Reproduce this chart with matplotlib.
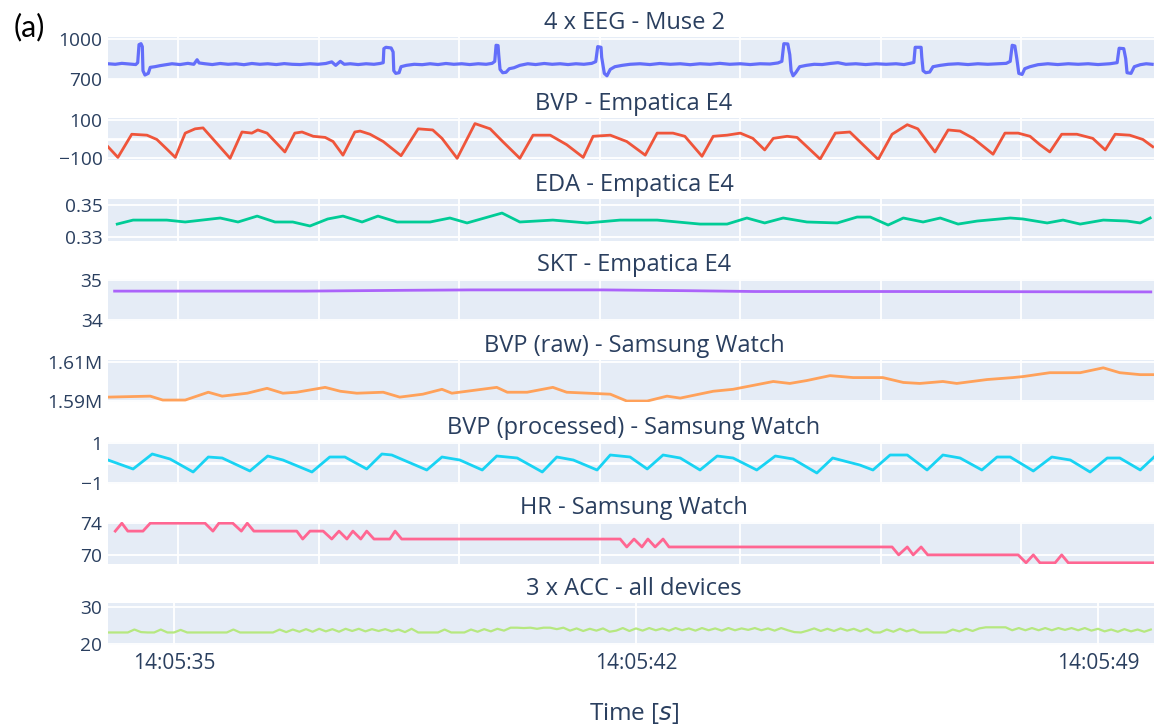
import numpy as np
import matplotlib.pyplot as plt

plt.rcParams['font.family'] = ['Open Sans', 'DejaVu Sans']

# all times are seconds after 14:05:34
eeg_t = [0.00, 0.11, 0.21, 0.33, 0.42, 0.45, 0.47, 0.50, 0.52, 0.53, 0.56, 0.61, 0.64, 0.71, 0.79, 0.88, 0.97,
         1.09, 1.21, 1.30, 1.35, 1.38, 1.47, 1.58, 1.70, 1.82, 1.94, 2.06, 2.18, 2.30, 2.42, 2.55, 2.67, 2.79,
         2.91, 3.06, 3.18, 3.30, 3.39, 3.45, 3.52, 3.58, 3.67, 3.79, 3.91, 4.03, 4.12, 4.17, 4.18, 4.21, 4.29,
         4.32, 4.33, 4.36, 4.41, 4.44, 4.52, 4.64, 4.76, 4.88, 5.00, 5.12, 5.24, 5.36, 5.48, 5.61, 5.73, 5.82,
         5.86, 5.88, 5.91, 5.92, 5.94, 5.98, 6.03, 6.08, 6.15, 6.24, 6.36, 6.48, 6.61, 6.73, 6.85, 6.97, 7.09,
         7.21, 7.33, 7.39, 7.42, 7.47, 7.48, 7.52, 7.56, 7.61, 7.68, 7.79, 7.91, 8.06, 8.21, 8.36, 8.52, 8.67,
         8.82, 8.97, 9.12, 9.27, 9.42, 9.58, 9.73, 9.88, 10.03, 10.15, 10.21, 10.24, 10.30, 10.33, 10.35, 10.38,
         10.42, 10.48, 10.58, 10.70, 10.82, 10.94, 11.06, 11.18, 11.33, 11.48, 11.64, 11.79, 11.94, 12.06, 12.15,
         12.21, 12.23, 12.32, 12.33, 12.35, 12.39, 12.45, 12.50, 12.61, 12.73, 12.88, 13.03, 13.18, 13.33, 13.48,
         13.61, 13.67, 13.70, 13.74, 13.77, 13.80, 13.85, 13.89, 13.97, 14.09, 14.24, 14.39, 14.55, 14.70, 14.85,
         15.00, 15.18, 15.29, 15.32, 15.39, 15.42, 15.44, 15.50, 15.55, 15.64, 15.73, 15.82]
eeg_v = [812, 808, 815, 810, 806, 820, 955, 962, 940, 760, 728, 740, 785, 790, 798, 805, 812,
         806, 815, 808, 842, 818, 812, 806, 814, 808, 812, 805, 814, 808, 812, 806, 813, 808,
         806, 812, 808, 814, 826, 800, 830, 808, 812, 806, 812, 808, 814, 820, 925, 935, 930,
         900, 760, 740, 745, 790, 800, 808, 805, 812, 806, 814, 808, 812, 806, 812, 808, 815,
         830, 950, 948, 880, 770, 745, 748, 775, 782, 800, 812, 806, 814, 808, 812, 806, 812,
         808, 815, 828, 940, 935, 860, 740, 722, 770, 790, 800, 808, 812, 806, 814, 808, 812,
         805, 812, 808, 815, 808, 812, 806, 812, 810, 818, 830, 962, 960, 880, 760, 722,
         745, 790, 800, 808, 806, 814, 820, 808, 812, 806, 812, 808, 812, 806, 815,
         822, 935, 935, 860, 760, 745, 750, 790, 800, 808, 812, 806, 812, 808, 812,
         815, 830, 950, 945, 850, 740, 732, 775, 790, 805, 812, 806, 812, 808, 812,
         806, 812, 820, 928, 925, 850, 745, 740, 790, 805, 812, 808]

bvp_t = [0.00, 0.15, 0.36, 0.59, 0.74, 0.89, 1.02, 1.17, 1.32, 1.44, 1.85, 2.03, 2.18, 2.27, 2.41, 2.68,
         2.83, 2.94, 3.11, 3.29, 3.41, 3.56, 3.74, 3.82, 3.97, 4.17, 4.44, 4.70, 4.92, 5.06, 5.29, 5.56,
         5.79, 5.98, 6.24, 6.44, 6.70, 6.95, 7.20, 7.35, 7.61, 7.86, 8.14, 8.32, 8.56, 8.74, 9.00, 9.17,
         9.38, 9.58, 9.77, 9.95, 10.08, 10.29, 10.44, 10.79, 11.02, 11.24, 11.67, 11.88, 12.11, 12.27,
         12.53, 12.73, 12.91, 13.11, 13.41, 13.59, 13.79, 13.97, 14.12, 14.27, 14.45, 14.68, 14.92,
         15.11, 15.26, 15.48, 15.68, 15.83]
bvp_v = [-42, -99, 25, 20, -3, -54, -99, 31, 54, 59, -104, 37, 31, 48, 31, -70,
         31, 37, 14, 8, -14, -87, 37, 42, 25, -14, -90, 54, 48, 3, -104, 82,
         54, -14, -104, 20, 20, -31, -99, 14, 20, -14, -87, 31, 31, 14, -93, 14,
         20, 31, 3, -59, 3, 14, 8, -108, 31, 37, -110, 25, 76, 54,
         -70, 48, 42, 3, -82, 31, 31, 14, -31, -70, 25, 25, 3,
         -59, 25, 20, -3, -42]

eda_t = [0.14, 0.38, 0.89, 1.17, 1.70, 1.97, 2.26, 2.53, 2.80, 3.06, 3.33, 3.56, 3.85, 4.09, 4.38, 4.88,
         5.18, 5.44, 5.97, 6.24, 6.74, 7.26, 7.76, 8.32, 8.97, 9.38, 9.68, 9.95, 10.23, 10.59, 11.05,
         11.35, 11.55, 11.82, 12.05, 12.35, 12.61, 12.88, 13.17, 13.67, 13.86, 14.23, 14.47, 14.73,
         15.08, 15.44, 15.64, 15.79]
eda_v = [0.3381, 0.3406, 0.3406, 0.3394, 0.3419, 0.3394, 0.3431, 0.3394, 0.3394, 0.3369, 0.3413, 0.3431,
         0.3394, 0.3431, 0.3394, 0.3394, 0.3419, 0.3388, 0.3450, 0.3394, 0.3406, 0.3388, 0.3406, 0.3406,
         0.3381, 0.3381, 0.3419, 0.3388, 0.3419, 0.3394, 0.3388, 0.3425, 0.3425, 0.3375, 0.3419, 0.3394,
         0.3419, 0.3381, 0.3400, 0.3419, 0.3413, 0.3388, 0.3406, 0.3381, 0.3406, 0.3400, 0.3388, 0.3419]

skt_t = [0.10, 3.00, 4.50, 5.50, 7.50, 8.80, 9.80, 12.00, 15.80]
skt_v = [34.72, 34.72, 34.74, 34.75, 34.75, 34.73, 34.71, 34.71, 34.70]

raw_t = [0.00, 0.64, 0.83, 1.17, 1.52, 1.73, 2.11, 2.41, 2.65, 2.86, 3.29, 3.52, 3.77, 4.17, 4.42, 4.77,
         5.06, 5.21, 5.89, 6.05, 6.35, 6.74, 6.95, 7.61, 7.86, 8.17, 8.47, 8.67, 9.17, 9.47, 10.08, 10.33,
         10.59, 10.94, 11.29, 11.74, 12.05, 12.30, 12.65, 12.86, 13.32, 13.71, 13.86, 14.27, 14.73, 15.08,
         15.33, 15.64, 15.85]
raw_v = [1592000, 1592500, 1590500, 1590500, 1594500, 1592500, 1594000, 1596500, 1594000, 1594500,
         1597000, 1595000, 1594000, 1594500, 1592000, 1593500, 1596000, 1594000, 1597000, 1594500,
         1594500, 1597000, 1594500, 1593500, 1590000, 1590000, 1592500, 1591500, 1595000, 1596000,
         1600000, 1599000, 1600500, 1603000, 1602000, 1602000, 1599500, 1599000, 1600000, 1599000,
         1601000, 1602000, 1602500, 1604500, 1604500, 1607000, 1604500, 1603500, 1603500]

proc_t = [0.00, 0.38, 0.67, 0.94, 1.29, 1.52, 1.73, 2.15, 2.42, 2.65, 3.09, 3.36, 3.59, 3.92, 4.15, 4.30,
          4.83, 5.06, 5.33, 5.67, 5.89, 6.20, 6.58, 6.80, 7.05, 7.41, 7.61, 7.91, 8.17, 8.41, 8.67, 8.97,
          9.23, 9.47, 9.83, 10.11, 10.38, 10.74, 10.98, 11.39, 11.59, 11.85, 12.11, 12.41, 12.65, 12.91,
          13.24, 13.47, 13.67, 14.02, 14.30, 14.58, 14.88, 15.14, 15.33, 15.64, 15.85]
proc_v = [0.15, -0.30, 0.45, 0.20, -0.45, 0.30, 0.25, -0.40, 0.35, 0.15, -0.45, 0.30, 0.30, -0.30, 0.45,
          0.40, -0.35, 0.30, 0.15, -0.35, 0.35, 0.25, -0.45, 0.30, 0.15, -0.35, 0.40, 0.30, -0.30, 0.40,
          0.25, -0.35, 0.35, 0.25, -0.35, 0.35, 0.20, -0.50, 0.25, -0.10, -0.35, 0.40, 0.40, -0.35, 0.40,
          0.25, -0.35, 0.30, 0.30, -0.40, 0.30, 0.15, -0.45, 0.25, 0.25, -0.35, 0.30]

hr_t = [0.11, 0.21, 0.30, 0.53, 0.64, 1.47, 1.59, 1.68, 1.89, 2.02, 2.11, 2.21, 2.86, 2.95, 3.06, 3.26,
        3.39, 3.50, 3.62, 3.71, 3.83, 3.92, 4.03, 4.27, 4.35, 4.45, 7.76, 7.86, 7.97, 8.09, 8.18, 8.29,
        8.41, 8.50, 11.88, 11.98, 12.11, 12.20, 12.32, 12.42, 13.79, 13.91, 14.02, 14.12, 14.35, 14.45,
        14.55, 15.85]
hr_v = [73, 74, 73, 73, 74, 74, 73, 74, 74, 73, 74, 73, 73, 72, 73, 73,
        72, 73, 72, 73, 72, 73, 72, 72, 73, 72, 72, 71, 72, 71, 72, 71,
        72, 71, 71, 70, 71, 70, 71, 70, 70, 69, 70, 69, 69, 70,
        69, 69]

# accelerometer magnitude, one value every 0.1 s
acc_v = [23.1, 23.1, 23.1, 23.1, 23.9, 23.2, 23.1, 23.1, 23.9, 23.1,
         23.1, 23.8, 23.1, 23.1, 23.1, 23.1, 23.1, 23.1, 23.1, 23.9,
         23.1, 23.1, 23.1, 23.1, 23.1, 23.1, 23.9, 23.2, 23.9, 23.3,
         24.0, 23.3, 24.1, 23.4, 24.0, 23.3, 24.1, 23.5, 24.1, 23.4,
         24.0, 23.5, 24.0, 23.4, 23.9, 23.2, 24.1, 23.1, 23.1, 23.1,
         23.1, 23.9, 23.1, 23.1, 23.1, 23.9, 23.3, 24.0, 23.4, 24.1,
         23.6, 24.4, 24.4, 24.3, 24.4, 24.1, 24.4, 24.4, 24.0, 24.4,
         23.6, 24.2, 23.5, 24.1, 23.6, 24.2, 23.3, 23.6, 24.3, 23.5,
         24.2, 23.6, 24.3, 23.7, 24.2, 23.6, 24.3, 23.7, 24.2, 23.6,
         24.3, 23.7, 24.2, 23.6, 24.3, 23.7, 24.2, 23.8, 24.3, 23.7,
         24.2, 23.6, 24.3, 23.7, 23.2, 23.1, 23.6, 24.2, 23.5, 24.1,
         23.5, 24.2, 23.6, 24.1, 23.4, 24.1, 23.1, 23.1, 23.9, 23.3,
         24.1, 23.4, 23.9, 23.1, 23.1, 23.1, 23.1, 23.1, 23.9, 23.4,
         24.1, 23.5, 24.2, 24.5, 24.5, 24.5, 24.5, 23.7, 24.3, 23.7,
         24.3, 23.7, 24.3, 23.7, 24.3, 23.8, 24.3, 23.7, 24.3, 23.6,
         24.1, 23.4, 23.9, 23.3, 24.0, 23.4, 23.9, 23.3, 23.9]
acc_t = np.arange(len(acc_v)) * 0.1

titles = ['4 x EEG - Muse 2', 'BVP - Empatica E4', 'EDA - Empatica E4', 'SKT - Empatica E4',
          'BVP (raw) - Samsung Watch', 'BVP (processed) - Samsung Watch', 'HR - Samsung Watch',
          '3 x ACC - all devices']
colors = ['#636EFA', '#EF553B', '#00CC96', '#AB63FA', '#FFA15A', '#19D3F3', '#FF6692', '#B6E880']
series = [(eeg_t, eeg_v), (bvp_t, bvp_v), (eda_t, eda_v), (skt_t, skt_v),
          (raw_t, raw_v), (proc_t, proc_v), (hr_t, hr_v), (acc_t, acc_v)]

y_ticks = [[700, 1000], [-100, 100], [0.33, 0.35], [34, 35],
           [1.59e6, 1.61e6], [-1, 1], [70, 74], [20, 30]]
y_labels = [['700', '1000'], ['\u2212100', '100'], ['0.33', '0.35'], ['34', '35'],
            ['1.59M', '1.61M'], ['\u22121', '1'], ['70', '74'], ['20', '30']]
y_limits = [(698, 1012), (-113, 112), (0.3275, 0.3538), (33.98, 35.02),
            (1.5895e6, 1.6110e6), (-1.05, 1.05), (68.85, 74.15), (19.7, 31.1)]

time_ticks = [1, 8, 15]
time_labels = ['14:05:35', '14:05:42', '14:05:49']

W, H = 1154, 725
fig = plt.figure(figsize=(W / 100, H / 100), dpi=100)
fig.patch.set_facecolor('white')

text_col = '#2a3f5f'
left, right = 108, 1164
panel_h = 42
panel_tops = [37, 118, 199, 279, 360, 442, 522, 603]

# sample-index grid of the upper panels
upper_grid = np.arange(1.06, 16, 2.13)

for i in range(8):
    top = panel_tops[i]
    ax = fig.add_axes([left / W, 1 - (top + panel_h) / H, (right - left) / W, panel_h / H])
    ax.set_facecolor('#E5ECF6')
    for s in ax.spines.values():
        s.set_visible(False)
    ax.set_axisbelow(True)

    t, v = series[i]
    lw = {0: 2.3, 7: 1.6}.get(i, 2.0)
    ax.plot(t, v, color=colors[i], lw=lw, solid_joinstyle='round')

    ax.set_xlim(0, 16)
    ax.set_ylim(*y_limits[i])
    ax.set_yticks(y_ticks[i], y_labels[i])

    if i == 7:
        ax.set_xticks(time_ticks, time_labels)
    else:
        ax.set_xticks(upper_grid)
        ax.set_xticklabels([])
    if i in (1, 5):
        ax.axhline(0, color='white', lw=2.0, zorder=0.5)

    ax.grid(True, color='white', lw=1.3)
    ax.tick_params(axis='y', length=0, labelsize=13.8, colors=text_col, pad=4)
    ax.tick_params(axis='x', length=0, labelsize=15, colors=text_col, pad=6)

    fig.text(634 / W, 1 - (top - 14) / H, titles[i], ha='center', va='center',
             fontsize=17, color=text_col)

fig.text(634 / W, 1 - 714 / H, 'Time [$s$]', ha='center', va='center', fontsize=17.5, color=text_col)
fig.text(29 / W, 1 - 27 / H, '(a)', ha='center', va='center', fontsize=22, color='black',
         family=['Lato', 'DejaVu Sans'])

fig.savefig('out.png', dpi=100)
